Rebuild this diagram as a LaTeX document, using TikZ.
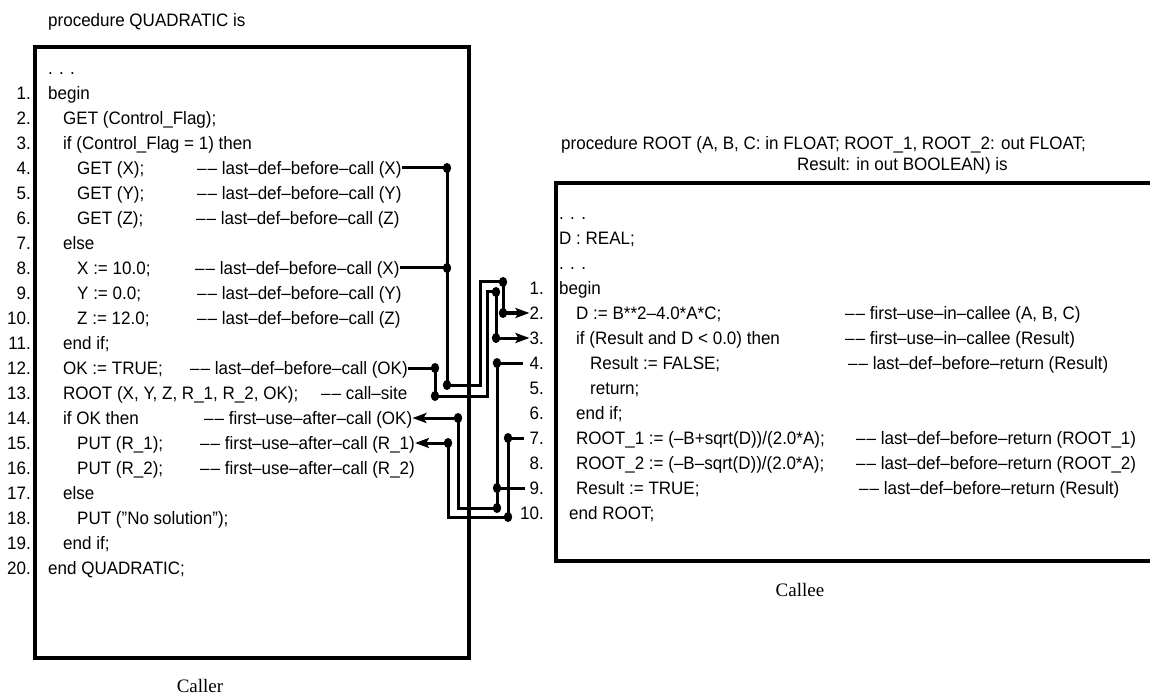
\documentclass[tikz,border=0pt]{standalone}
\usepackage{fontspec}
\setmainfont{Liberation Sans}[FakeStretch=0.945]
\newfontfamily\capfont{Liberation Serif}
\usetikzlibrary{arrows.meta}

\newcommand{\cdash}{–\kern1pt–}

\tikzset{
    code/.style={anchor=base west, inner sep=0pt, font=\fontsize{18}{20}\selectfont},
    cmt/.style={code, text height=13pt, text depth=0pt},
    num/.style={anchor=base east, inner sep=0pt, text height=13pt, text depth=0pt,
        font=\fontsize{18}{20}\selectfont},
    link/.style={line width=3pt},
    arr/.style={link, -{Stealth[length=14pt,width=10pt,inset=3pt]}},
    frame/.style={line width=4pt}
}

\begin{document}
\begin{tikzpicture}[x=1pt,y=-1pt]
    \useasboundingbox (0,0) rectangle (1150,700);

    % caller
    \node[code] (qtitle) at (48,26.5) {procedure QUADRATIC is};
    \draw[frame] (35,47) rectangle (469,658);
    \node[code] (c0) at (48,74.5) {. . .};
    \foreach \n in {1,...,20}{
        \node[num] (ln\n) at (31,{74.5+25*\n}) {\n.};
    }
    \foreach \n/\x/\t in {1/48/begin, 2/63/{GET (Control\_Flag);},
        3/63/{if (Control\_Flag = 1) then}, 4/77/{GET (X);}, 5/77/{GET (Y);},
        6/77/{GET (Z);}, 7/63/else, 8/77/{X := 10.0;}, 9/77/{Y := 0.0;},
        10/77/{Z := 12.0;}, 11/63/{end if;}, 12/63/{OK := TRUE;},
        13/63/{ROOT (X, Y, Z, R\_1, R\_2, OK);}, 14/63/{if OK then},
        15/77/{PUT (R\_1);}, 16/77/{PUT (R\_2);}, 17/63/else,
        18/77/{PUT ("No solution");}, 19/63/{end if;}, 20/48/{end QUADRATIC;}}{
        \node[code] (c\n) at (\x,{74.5+25*\n}) {\t};
    }
    \foreach \n/\x/\t in {4/197/{\cdash\ last–def–before–call (X)},
        5/197/{\cdash\ last–def–before–call (Y)}, 6/196/{\cdash\ last–def–before–call (Z)},
        8/195/{\cdash\ last–def–before–call (X)}, 9/197/{\cdash\ last–def–before–call (Y)},
        10/197/{\cdash\ last–def–before–call (Z)}, 12/190/{\cdash\ last–def–before–call (OK)},
        13/321/{\cdash\ call–site}, 14/204/{\cdash\ first–use–after–call (OK)},
        15/200/{\cdash\ first–use–after–call (R\_1)}, 16/200/{\cdash\ first–use–after–call (R\_2)}}{
        \node[cmt] (cm\n) at (\x,{74.5+25*\n}) {\t};
    }
    \node[font=\capfont\fontsize{19}{22}\selectfont] (caller) at (200,686) {Caller};

    % callee
    \node[code] (rtitle) at (561,149.5) {procedure ROOT (A, B, C: in FLOAT; ROOT\_1, ROOT\_2: out FLOAT;};
    \node[code] (rtitleb) at (797,170.5) {Result: in out BOOLEAN) is};
    \draw[frame] (1152,183) -- (556,183) -- (556,561) -- (1152,561);
    \node[code] (r0) at (559,219.5) {. . .};
    \node[code] (rdecl) at (559,244.5) {D : REAL;};
    \node[code] (r00) at (559,269.5) {. . .};
    \foreach \k in {1,...,10}{
        \node[num] (rn\k) at (544,{269.5+25*\k}) {\k.};
    }
    \foreach \k/\x/\t in {1/559/begin, 2/576/{D := B**2–4.0*A*C;},
        3/576/{if (Result and D < 0.0) then}, 4/590/{Result := FALSE;},
        5/590/{return;}, 6/576/{end if;}, 7/576/{ROOT\_1 := (–B+sqrt(D))/(2.0*A);},
        8/576/{ROOT\_2 := (–B–sqrt(D))/(2.0*A);}, 9/576/{Result := TRUE;},
        10/569/{end ROOT;}}{
        \node[code] (r\k) at (\x,{269.5+25*\k}) {\t};
    }
    \foreach \k/\x/\t in {2/845/{\cdash\ first–use–in–callee (A, B, C)},
        3/845/{\cdash\ first–use–in–callee (Result)},
        4/848/{\cdash\ last–def–before–return (Result)},
        7/856/{\cdash\ last–def–before–return (ROOT\_1)},
        8/856/{\cdash\ last–def–before–return (ROOT\_2)},
        9/859/{\cdash\ last–def–before–return (Result)}}{
        \node[cmt] (rm\k) at (\x,{269.5+25*\k}) {\t};
    }
    \node[font=\capfont\fontsize{19}{22}\selectfont] (callee) at (800,590) {Callee};

    % buses
    \coordinate (xbus) at (447,0);
    \coordinate (xcall) at (447,385);
    \coordinate (xtop) at (503,282);
    \coordinate (okbus) at (435,0);
    \coordinate (okcall) at (435,396);
    \coordinate (oktop) at (496,292);
    \coordinate (resbus) at (497,0);
    \coordinate (resbot) at (497,508);
    \coordinate (okback) at (458,0);
    \coordinate (rtbus) at (508,0);
    \coordinate (rtbot) at (508,517);
    \coordinate (r1back) at (448,0);

    % parameters in
    \draw[link] (cm4.east) -- (cm4.east -| xbus) -- (xcall);
    \draw[link] (cm8.east) -- (cm8.east -| xbus);
    \draw[link] (xcall) -| (480,282) -- (xtop) -- (rn2.west -| xtop);
    \draw[arr] (rn2.west -| xtop) -- (rn2.west);

    \draw[link] (cm12.east) -- (cm12.east -| okbus) -- (okcall);
    \draw[link] (okcall) -| (487,292) -- (oktop) -- (rn3.west -| oktop);
    \draw[arr] (rn3.west -| oktop) -- (rn3.west);

    % parameters out
    \draw[link, shorten <=6pt] (rn4.west) -- (rn4.west -| resbus) -- (resbot);
    \draw[link, shorten <=4pt] (rn9.west) -- (rn9.west -| resbus);
    \draw[link] (resbot) -| (cm14.east -| okback);
    \draw[arr] (cm14.east -| okback) -- (cm14.east);

    \draw[link, shorten <=5pt] (rn7.west) -- (rn7.west -| rtbus) -- (rtbot);
    \draw[link] (rtbot) -| (cm15.east -| r1back);
    \draw[arr] (cm15.east -| r1back) -- (cm15.east);

    \foreach \p in {(cm4.east -| xbus), (cm8.east -| xbus), (xcall), (xtop),
        (rn2.west -| xtop), (cm12.east -| okbus), (okcall), (oktop),
        (rn3.west -| oktop), (rn4.west -| resbus), (rn9.west -| resbus), (resbot),
        (cm14.east -| okback), (rn7.west -| rtbus), (rtbot), (cm15.east -| r1back)}{
        \fill \p ellipse [x radius=4.2pt, y radius=5pt];
    }
\end{tikzpicture}
\end{document}
